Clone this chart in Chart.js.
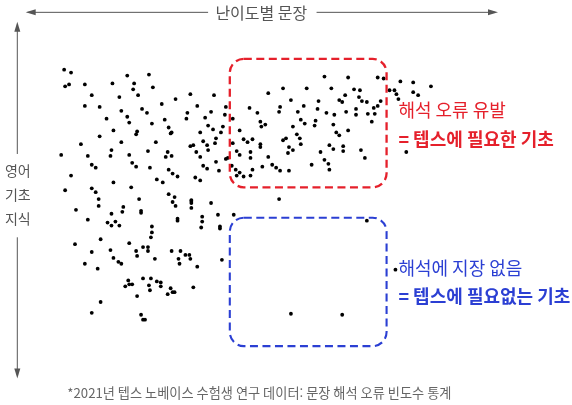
<!DOCTYPE html>
<html lang="ko">
<head>
<meta charset="utf-8">
<script src="https://cdn.jsdelivr.net/npm/chart.js@4/dist/chart.umd.min.js"></script>
<style>
  html, body { margin: 0; padding: 0; background: #fff; }
  #wrap { width: 572px; height: 405px; position: relative; }
</style>
</head>
<body>
<div id="wrap"><canvas id="sentenceChart"></canvas></div>
<script>
// 문장 난이도(x) vs 영어 기초 지식(y) - 그림에서 읽은 값
const sentencePoints = [
  [61,67],[68,70],[62,84],[66,82],[82,82],[110,81],[125,73],[147,72],[132,81],[131,87],[151,85],[89,93],[117,95],[136,93],
  [189,92],[213,93],[174,97],[82,104],[97,105],[160,102],[196,104],[140,107],[145,111],[119,109],[186,111],[185,117],[225,105],
  [224,113],[104,117],[125,115],[127,121],[163,118],[150,122],[204,116],[210,110],[207,124],[212,128],[222,125],[220,131],[232,117],
  [111,129],[135,130],[134,133],[170,131],[167,126],[169,132],[199,131],[97,135],[119,141],[154,141],[202,140],[215,137],[214,142],
  [206,144],[207,149],[189,145],[192,144],[78,143],[109,149],[108,155],[146,150],[166,151],[164,156],[170,155],[195,151],[199,156],
  [239,129],[232,142],[236,150],[239,154],[58,154],[85,155],[127,154],[89,164],[93,167],[130,162],[134,166],[148,167],[167,169],
  [171,173],[176,176],[202,165],[206,168],[215,161],[218,170],[225,158],[227,157],[231,165],[235,169],[239,172],[236,175],[68,175],
  [111,182],[155,179],[161,182],[194,177],[199,180],[62,190],[89,188],[93,192],[129,187],[137,199],[96,199],[167,194],[173,197],[190,200],
  [325,74],[349,75],[379,75],[385,76],[402,79],[415,80],[283,86],[307,86],[268,91],[332,86],[355,87],[361,88],[391,88],[396,88],
  [346,93],[360,95],[415,90],[398,92],[400,97],[291,98],[319,99],[340,98],[343,100],[363,99],[368,100],[382,99],[379,104],[375,106],
  [249,106],[280,105],[279,110],[304,104],[318,107],[347,110],[357,107],[357,113],[369,112],[376,112],[298,110],[257,111],[327,111],
  [335,113],[373,120],[301,118],[305,122],[316,119],[315,124],[260,120],[261,125],[265,123],[293,125],[334,123],[297,133],[300,137],
  [301,143],[337,131],[340,134],[349,129],[243,138],[247,141],[252,138],[283,139],[286,137],[260,143],[260,146],[289,146],[293,149],
  [288,152],[330,144],[334,148],[344,145],[344,150],[250,151],[250,157],[321,151],[268,156],[243,176],[250,175],[252,169],[262,166],
  [272,164],[276,167],[280,170],[289,170],[312,164],[325,159],[329,163],[330,169],[362,149],[366,157],[408,151],[279,199],[433,84],[420,93],
  [96,206],[73,210],[85,220],[121,207],[120,212],[109,214],[105,223],[109,226],[113,222],[117,226],[139,211],[139,213],[171,202],
  [174,206],[190,201],[190,203],[190,208],[210,203],[176,219],[176,221],[201,217],[201,222],[200,228],[217,215],[219,227],[219,229],
  [233,215],[150,227],[150,233],[149,238],[98,240],[72,245],[127,244],[89,253],[82,265],[95,270],[108,251],[111,259],[116,263],
  [119,265],[134,252],[135,257],[141,248],[146,248],[146,252],[153,260],[170,252],[179,252],[177,260],[178,265],[184,256],[188,256],
  [189,260],[196,268],[221,261],[126,282],[123,288],[127,286],[130,286],[141,280],[149,280],[155,283],[159,284],[159,288],[147,287],
  [148,292],[135,298],[169,290],[171,294],[173,294],[166,296],[192,289],[98,304],[89,315],[139,317],[141,322],[143,322],
  [368,221],[397,271],[291,316],[343,317]
];

const xTitle = '난이도별 문장';
const yTitle = ['영어', '기초', '지식'];
const footNote = '*2021년 텝스 노베이스 수험생 연구 데이터: 문장 해석 오류 빈도수 통계';

// 구역 상자: [x1, y1, x2, y2]
const errorZone = [229, 56, 388, 187];
const safeZone = [229, 218, 388, 349];
const errorLabels = ['해석 오류 유발', '= 텝스에 필요한 기초'];
const safeLabels = ['해석에 지장 없음', '= 텝스에 필요없는 기초'];

const RED = '#e5202b';
const BLUE = '#2b3fd3';
const GREY = '#555555';
const FONT = '"Noto Sans CJK KR", "Noto Sans", sans-serif';

function arrowHead(ctx, x, y, dir) {
  ctx.beginPath();
  if (dir === 'left') { ctx.moveTo(x, y); ctx.lineTo(x + 10, y - 3); ctx.lineTo(x + 10, y + 3); }
  if (dir === 'right') { ctx.moveTo(x, y); ctx.lineTo(x - 10, y - 3); ctx.lineTo(x - 10, y + 3); }
  if (dir === 'up') { ctx.moveTo(x, y); ctx.lineTo(x - 3, y + 10); ctx.lineTo(x + 3, y + 10); }
  if (dir === 'down') { ctx.moveTo(x, y); ctx.lineTo(x - 3, y - 10); ctx.lineTo(x + 3, y - 10); }
  ctx.closePath();
  ctx.fill();
}

const decorations = {
  id: 'decorations',
  afterDatasetsDraw(chart) {
    const ctx = chart.ctx;
    const xs = chart.scales.x, ys = chart.scales.y;
    const px = v => xs.getPixelForValue(v);
    const py = v => ys.getPixelForValue(v);
    ctx.save();

    // 가로 화살표 + 제목
    ctx.strokeStyle = GREY; ctx.fillStyle = GREY; ctx.lineWidth = 1;
    ctx.beginPath();
    ctx.moveTo(px(24), py(8.5)); ctx.lineTo(px(207), py(8.5));
    ctx.moveTo(px(317), py(8.5)); ctx.lineTo(px(498), py(8.5));
    ctx.stroke();
    arrowHead(ctx, px(22), py(8.5), 'left');
    arrowHead(ctx, px(501), py(8.5), 'right');
    ctx.font = '16px ' + FONT;
    ctx.textAlign = 'center'; ctx.textBaseline = 'middle';
    ctx.fillText(xTitle, px(261), py(9));

    // 세로 화살표 + 제목
    ctx.beginPath();
    ctx.moveTo(px(13.5), py(22)); ctx.lineTo(px(13.5), py(153));
    ctx.moveTo(px(13.5), py(238)); ctx.lineTo(px(13.5), py(378));
    ctx.stroke();
    arrowHead(ctx, px(13.5), py(18), 'up');
    arrowHead(ctx, px(13.5), py(382), 'down');
    ctx.font = '14px ' + FONT;
    yTitle.forEach((t, i) => ctx.fillText(t, px(14), py(170 + i * 24.5)));

    // 각주
    ctx.fillStyle = '#666';
    ctx.font = '13.2px ' + FONT;
    ctx.fillText(footNote, px(259), py(397));

    // 점선 상자
    const box = (b, color, w) => {
      ctx.strokeStyle = color; ctx.lineWidth = w;
      ctx.setLineDash([8, 4.5]);
      ctx.beginPath();
      ctx.roundRect(px(b[0]), py(b[1]), px(b[2]) - px(b[0]), py(b[3]) - py(b[1]), 14);
      ctx.stroke();
      ctx.setLineDash([]);
    };
    box(errorZone, RED, 2.3);
    box(safeZone, BLUE, 2.1);

    // 설명 문구
    ctx.textAlign = 'left';
    const labels = (lines, color, y) => {
      ctx.fillStyle = color;
      ctx.font = '18px ' + FONT;
      ctx.fillText(lines[0], px(400), py(y));
      ctx.font = 'bold 18px ' + FONT;
      ctx.fillText(lines[1], px(400), py(y + 29));
    };
    labels(errorLabels, RED, 108.5);
    labels(safeLabels, BLUE, 269.5);

    ctx.restore();
  }
};

new Chart(document.getElementById('sentenceChart'), {
  type: 'scatter',
  data: {
    datasets: [{
      label: '문장',
      data: sentencePoints.map(p => ({ x: p[0], y: p[1] })),
      backgroundColor: '#000',
      borderWidth: 0,
      pointRadius: 1.9,
    }]
  },
  options: {
    responsive: true,
    maintainAspectRatio: false,
    animation: false,
    layout: { padding: 0 },
    plugins: { legend: { display: false }, tooltip: { enabled: false } },
    scales: {
      x: { type: 'linear', min: 0, max: 572, display: false },
      y: { type: 'linear', min: 0, max: 405, reverse: true, display: false }
    }
  },
  plugins: [decorations]
});
</script>
</body>
</html>
